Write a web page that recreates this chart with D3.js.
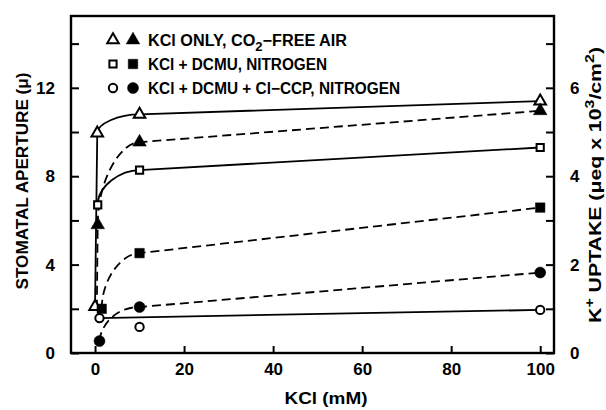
<!DOCTYPE html>
<html>
<head>
<meta charset="utf-8">
<script src="https://cdn.jsdelivr.net/npm/d3@7"></script>
<style>
  html, body { margin: 0; padding: 0; background: #fff; }
  svg { display: block; font-family: 'Liberation Sans', Arial, sans-serif; font-weight: bold; }
</style>
</head>
<body>
<div id="chart"></div>
<script>
'use strict';

// KCl (mM) on x; open symbols = stomatal aperture (left axis, μ),
// filled symbols = K+ uptake (right axis, μeq x 10^3/cm^2)
var apertureKclOnlyX = [0, 0.5, 10, 100];
var apertureKclOnly = [2.1, 9.95, 10.8, 11.4];
var uptakeKclOnlyX = [0.6, 10, 100];
var uptakeKclOnly = [2.9, 4.77, 5.48];
var uptakeKclOnlyLead = [0.4, 1.0];   // dashed drop line below the first point

var apertureDcmuX = [0.6, 10, 100];
var apertureDcmu = [6.7, 8.28, 9.3];
var uptakeDcmuX = [1.5, 10, 100];
var uptakeDcmu = [1.0, 2.26, 3.29];

var apertureCcpX = [1, 10, 100];
var apertureCcp = [1.58, 1.18, 1.95];
var uptakeCcpX = [1, 10, 100];
var uptakeCcp = [0.27, 1.04, 1.82];

var legendLabels = ['KCl ONLY, CO', 'KCl + DCMU, NITROGEN', 'KCl + DCMU + Cl\u2212CCP, NITROGEN'];

var xTicks = [0, 20, 40, 60, 80, 100];
var leftTicks = [0, 4, 8, 12];
var leftMinor = [2, 6, 10, 14];
var rightTicks = [0, 2, 4, 6];
var rightMinor = [1, 3, 5, 7];

var width = 606, height = 410;
var plotLeft = 71, plotRight = 554, plotTop = 16, plotBottom = 353;

var svg = d3.select('#chart').append('svg')
  .attr('width', width)
  .attr('height', height)
  .attr('viewBox', [0, 0, width, height]);

var x = d3.scaleLinear().domain([-5.4, 103.1]).range([plotLeft, plotRight]);
var yL = d3.scaleLinear().domain([0, 15.25]).range([plotBottom, plotTop]);
var yR = d3.scaleLinear().domain([0, 7.625]).range([plotBottom, plotTop]);

// curve: short segments bend like a quarter ellipse, long ones stay straight
function curveKnee(k) {
  return function (context) {
    var x0, y0, n = 0;
    return {
      areaStart: function () {}, areaEnd: function () {},
      lineStart: function () { n = 0; },
      lineEnd: function () {},
      point: function (px, py) {
        if (n++ === 0) context.moveTo(px, py);
        else if (Math.abs(px - x0) > 5 && Math.abs(px - x0) < 100) {
          context.bezierCurveTo(x0, y0 + k * (py - y0), x0 + k * (px - x0), py, px, py);
        } else context.lineTo(px, py);
        x0 = px; y0 = py;
      }
    };
  };
}

function zip(xs, ys) { return xs.map(function (v, i) { return [v, ys[i]]; }); }

var series = [
  { pts: zip(apertureKclOnlyX, apertureKclOnly), y: yL, shape: d3.symbolTriangle, filled: false, dash: false, knee: 0.5 },
  { pts: zip(uptakeKclOnlyX, uptakeKclOnly), lead: uptakeKclOnlyLead, y: yR, shape: d3.symbolTriangle, filled: true, dash: true, knee: 0.55 },
  { pts: zip(apertureDcmuX, apertureDcmu), y: yL, shape: d3.symbolSquare, filled: false, dash: false, knee: 0.55 },
  { pts: zip(uptakeDcmuX, uptakeDcmu), y: yR, shape: d3.symbolSquare, filled: true, dash: true, knee: 0.55 },
  { pts: zip(apertureCcpX, apertureCcp), y: yL, shape: d3.symbolCircle, filled: false, dash: false, straight: true },
  { pts: zip(uptakeCcpX, uptakeCcp), y: yR, shape: d3.symbolCircle, filled: true, dash: true, knee: 0.3 }
];

function symbolSize(shape, filled) {
  if (shape === d3.symbolTriangle) return filled ? 80 : 58;
  if (shape === d3.symbolSquare) return filled ? 90 : 52;
  return filled ? 95 : 55;
}

function styleAxis(g) {
  g.select('.domain').remove();
  g.selectAll('.tick line').attr('stroke', '#000').attr('stroke-width', 2);
  g.selectAll('.tick text').attr('fill', '#000')
    .attr('font-size', 17).attr('font-weight', 'bold')
    .attr('font-family', "'Liberation Sans', Arial, sans-serif");
}

// axes (ticks point inward, labels outside)
svg.append('g').attr('transform', 'translate(0,' + plotBottom + ')')
  .call(d3.axisBottom(x).tickValues(xTicks).tickSizeInner(-7).tickSizeOuter(0).tickPadding(10))
  .call(styleAxis);
svg.append('g').attr('transform', 'translate(' + plotLeft + ',0)')
  .call(d3.axisLeft(yL).tickValues(leftTicks.concat(leftMinor)).tickFormat(function (d) {
    return leftTicks.indexOf(d) >= 0 ? d : '';
  }).tickSizeInner(-8).tickSizeOuter(0).tickPadding(16))
  .call(styleAxis);
svg.append('g').attr('transform', 'translate(' + plotRight + ',0)')
  .call(d3.axisRight(yR).tickValues(rightTicks.concat(rightMinor)).tickFormat(function (d) {
    return rightTicks.indexOf(d) >= 0 ? d : '';
  }).tickSizeInner(-8).tickSizeOuter(0).tickPadding(16))
  .call(styleAxis);

svg.append('rect')
  .attr('x', plotLeft).attr('y', plotTop)
  .attr('width', plotRight - plotLeft).attr('height', plotBottom - plotTop)
  .attr('fill', 'none').attr('stroke', '#000').attr('stroke-width', 2.4);

// lines
var plot = svg.append('g');
series.forEach(function (s) {
  var linePts = s.straight ? [s.pts[0], s.pts[s.pts.length - 1]] : (s.lead ? [s.lead].concat(s.pts) : s.pts);
  var line = d3.line()
    .x(function (d) { return x(d[0]); })
    .y(function (d) { return s.y(d[1]); })
    .curve(s.straight ? d3.curveLinear : curveKnee(s.knee));
  plot.append('path')
    .attr('d', line(linePts))
    .attr('fill', 'none')
    .attr('stroke', '#000')
    .attr('stroke-width', 1.8)
    .attr('stroke-dasharray', s.dash ? '9,5' : null);
});

// markers
series.forEach(function (s) {
  plot.selectAll(null)
    .data(s.pts)
    .join('path')
    .attr('transform', function (d) { return 'translate(' + x(d[0]) + ',' + s.y(d[1]) + ')'; })
    .attr('d', d3.symbol().type(s.shape).size(symbolSize(s.shape, s.filled)))
    .attr('fill', s.filled ? '#000' : '#fff')
    .attr('stroke', '#000')
    .attr('stroke-width', s.filled ? 0.5 : 2);
});

// legend
var legendShapes = [d3.symbolTriangle, d3.symbolSquare, d3.symbolCircle];
var legendLen = [199, 179, 252];
var legend = svg.append('g');
legendLabels.forEach(function (label, i) {
  var cy = 40 + i * 24;
  [false, true].forEach(function (filled, j) {
    legend.append('path')
      .attr('transform', 'translate(' + (113 + j * 20) + ',' + cy + ')')
      .attr('d', d3.symbol().type(legendShapes[i]).size(symbolSize(legendShapes[i], filled)))
      .attr('fill', filled ? '#000' : '#fff')
      .attr('stroke', '#000')
      .attr('stroke-width', filled ? 0.5 : 2);
  });
  var t = legend.append('text')
    .attr('x', 148).attr('y', cy + 6)
    .attr('font-size', 16)
    .attr('textLength', legendLen[i])
    .attr('lengthAdjust', 'spacingAndGlyphs')
    .text(label);
  if (i === 0) {
    t.append('tspan').attr('dy', 5).attr('font-size', 13).text('2');
    t.append('tspan').attr('dy', -5).text('\u2212FREE AIR');
  }
});

// axis titles
svg.append('text')
  .attr('x', 326).attr('y', 404)
  .attr('text-anchor', 'middle')
  .attr('font-size', 17)
  .attr('textLength', 83)
  .attr('lengthAdjust', 'spacingAndGlyphs')
  .text('KCl (mM)');

svg.append('text')
  .attr('transform', 'translate(28,181) rotate(-90)')
  .attr('text-anchor', 'middle')
  .attr('font-size', 17)
  .attr('textLength', 217)
  .attr('lengthAdjust', 'spacingAndGlyphs')
  .text('STOMATAL APERTURE (\u03bc)');

var rt = svg.append('text')
  .attr('transform', 'translate(601,185) rotate(-90)')
  .attr('text-anchor', 'middle')
  .attr('font-size', 16)
  .attr('textLength', 276)
  .attr('lengthAdjust', 'spacingAndGlyphs');
rt.append('tspan').text('K');
rt.append('tspan').attr('dy', -7).attr('font-size', 12).text('+');
rt.append('tspan').attr('dy', 7).text(' UPTAKE (\u03bceq x 10');
rt.append('tspan').attr('dy', -7).attr('font-size', 12).text('3');
rt.append('tspan').attr('dy', 7).text('/cm');
rt.append('tspan').attr('dy', -7).attr('font-size', 12).text('2');
rt.append('tspan').attr('dy', 7).text(')');
</script>
</body>
</html>
